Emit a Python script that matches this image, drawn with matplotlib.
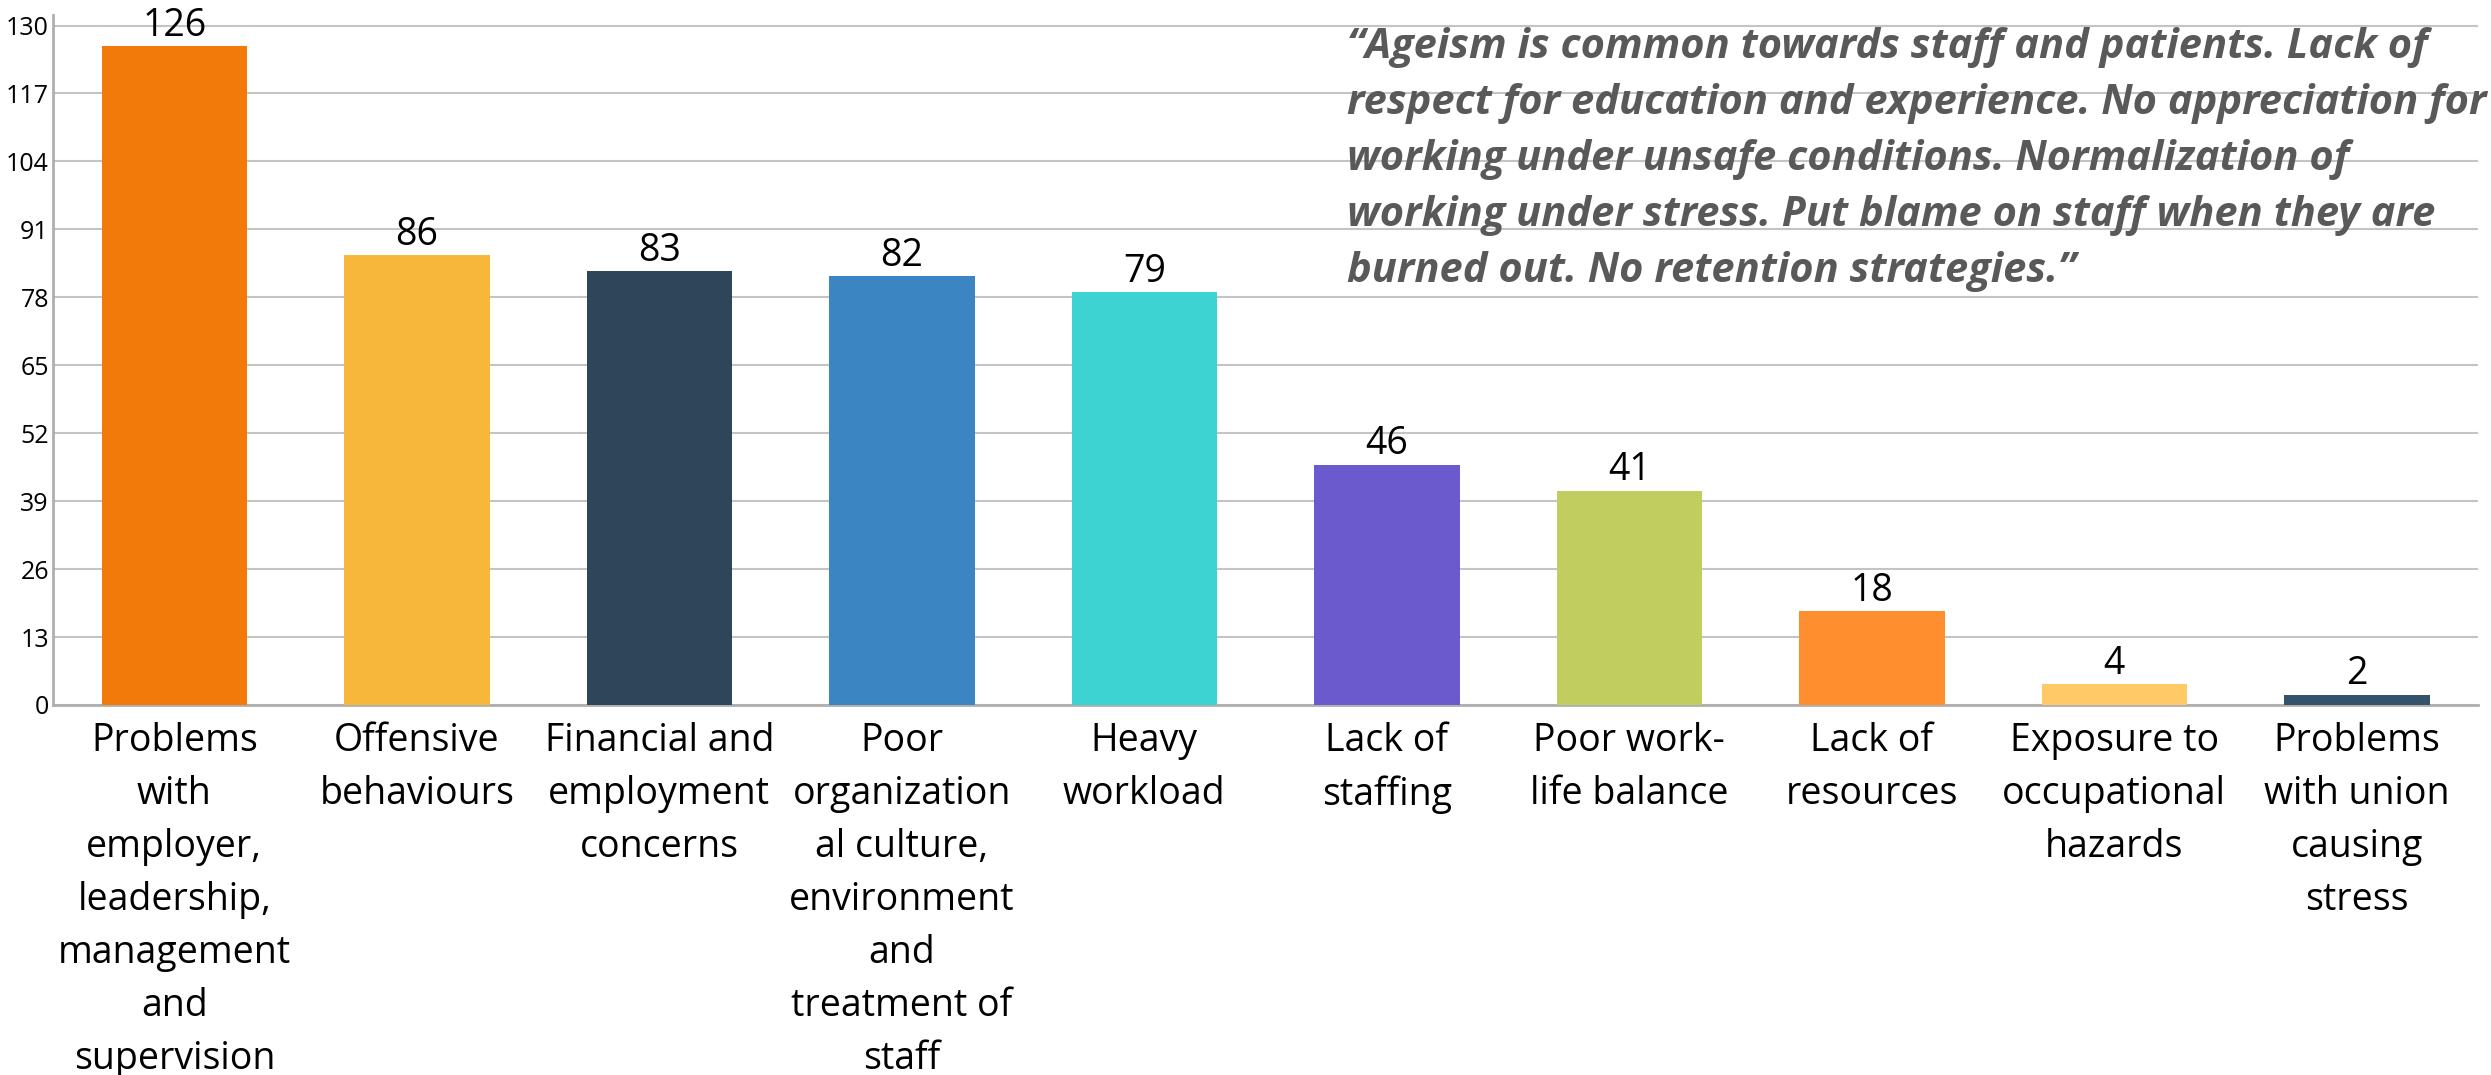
from matplotlib import pyplot as plt

categories = [
    'Problems\nwith\nemployer,\nleadership,\nmanagement\nand\nsupervision',
    'Offensive\nbehaviours',
    'Financial and\nemployment\nconcerns',
    'Poor\norganization\nal culture,\nenvironment\nand\ntreatment of\nstaff',
    'Heavy\nworkload',
    'Lack of\nstaffing',
    'Poor work-\nlife balance',
    'Lack of\nresources',
    'Exposure to\noccupational\nhazards',
    'Problems\nwith union\ncausing\nstress',
]
counts = [126, 86, 83, 82, 79, 46, 41, 18, 4, 2]
colors = ['#F27A0B', '#F7B73A', '#2E4659', '#3A85C2', '#3ED3D3',
          '#6B59CE', '#C1CD5E', '#FF8F2E', '#FFC966', '#34536B']
yticks = list(range(0, 131, 13))
quote = ('\u201cAgeism is common towards staff and patients. Lack of\n'
         'respect for education and experience. No appreciation for\n'
         'working under unsafe conditions. Normalization of\n'
         'working under stress. Put blame on staff when they are\n'
         'burned out. No retention strategies.\u201d')

plt.rcParams['font.family'] = ['Open Sans', 'DejaVu Sans']

if __name__ == '__main__':
    fig = plt.figure(figsize=(24.91, 10.75), dpi=100)
    ax = fig.add_axes([0.0213, 0.3442, 0.9735, 0.6418])

    x = range(len(counts))
    ax.bar(x, counts, width=0.6, color=colors, zorder=3)
    for xi, c in zip(x, counts):
        ax.annotate(str(c), (xi, c), xytext=(0, 1), textcoords='offset points',
                    ha='center', va='bottom', fontsize=27, color='black', zorder=4)

    ax.set_xlim(-0.5, len(counts) - 0.5)
    ax.set_ylim(0, 132)
    ax.set_yticks(yticks)
    ax.set_xticks(list(x))
    ax.set_xticklabels(categories, fontsize=27, linespacing=1.52, va='top')
    ax.tick_params(axis='x', length=0, pad=12)
    ax.tick_params(axis='y', length=0, pad=3, labelsize=18)
    ax.yaxis.grid(True, color='#C4C4C4', linewidth=1.5, zorder=0)

    for side in ['top', 'right']:
        ax.spines[side].set_visible(False)
    for side in ['left', 'bottom']:
        ax.spines[side].set_color('#AFAFAF')
        ax.spines[side].set_linewidth(2)

    fig.text(0.5407, 0.9745, quote, fontsize=30, fontweight='bold', style='italic',
             color='#595959', va='top', ha='left', linespacing=1.48)

    fig.savefig('out.png', dpi=100)
